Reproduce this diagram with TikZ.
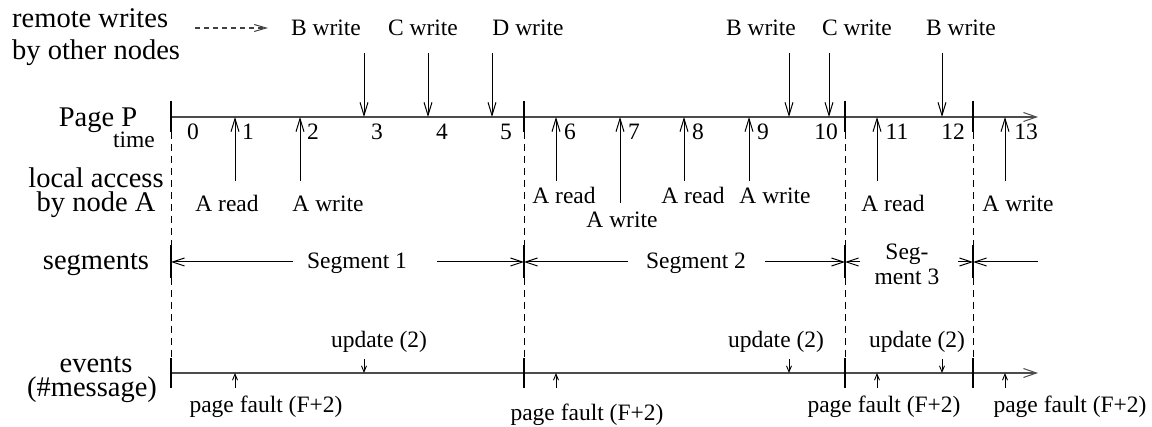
\documentclass[tikz,border=0pt]{standalone}
\usepackage{fontspec}
\setmainfont{Liberation Serif}
\usetikzlibrary{arrows.meta}
\begin{document}
\begin{tikzpicture}[x=1pt,y=-1pt,
  big/.style={font=\fontsize{28.5}{32}\selectfont,inner sep=0pt,anchor=base},
  lbl/.style={font=\fontsize{23.5}{26}\selectfont,inner sep=0pt,anchor=base},
  axis/.style={line width=1.4pt,draw=black!70,-{Straight Barb[length=13pt,width=9pt,line width=1pt]}},
  tick/.style={line width=1.3pt},
  bound/.style={line width=0.9pt,dash pattern=on 7pt off 5pt},
  rw/.style={line width=1pt,-{Straight Barb[length=13pt,width=8pt,line width=1pt]}},
  segarrow/.style={line width=1pt,-{Straight Barb[length=12pt,width=8pt,line width=1pt]}},
  ev/.style={line width=1pt,-{Straight Barb[length=6pt,width=5pt,line width=0.9pt]}}]
\useasboundingbox (0,0) rectangle (1152,427);

% row captions
\node[big,anchor=base west] (cap1) at (12,28) {remote writes};
\node[big,anchor=base west] (cap2) at (12,60) {by other nodes};
\node[big] (pagep) at (98,127) {Page P};
\node[lbl,anchor=base east] (time) at (155,148) {time};
\node[big] (loc1) at (96,188) {local access};
\node[big] (loc2) at (96,212) {by node A};
\node[big] (segs) at (96,270) {segments};
\node[big] (evts) at (96,373) {events};
\node[big] (msgs) at (92,397) {(\#message)};

% legend arrow for remote writes
\coordinate (lg1) at (195,28);
\coordinate (lg2) at (268,28);
\draw[line width=1.2pt,draw=black!75,dash pattern=on 5pt off 4pt,-{Straight Barb[length=12pt,width=7pt,line width=1pt]}] (lg1) -- (lg2);

% time axis and event axis
\coordinate (ax0) at (171,117);
\coordinate (ax1) at (1038,117);
\draw[axis] (ax0) -- (ax1);
\coordinate (ev0) at (171,373);
\coordinate (ev1) at (1038,373);
\draw[axis] (ev0) -- (ev1);

% segment boundaries
\foreach \x [count=\i] in {171,524,845,973}{
  \coordinate (ta\i) at (\x,101); \coordinate (tb\i) at (\x,132);
  \coordinate (sa\i) at (\x,245); \coordinate (sb\i) at (\x,278);
  \coordinate (ea\i) at (\x,358); \coordinate (eb\i) at (\x,388);
  \draw[tick] (ta\i) -- (tb\i);
  \draw[tick] (sa\i) -- (sb\i);
  \draw[tick] (ea\i) -- (eb\i);
  \draw[bound] (tb\i) -- (sa\i);
  \draw[bound] (sb\i) -- (ea\i);
}

% time numbers
\foreach \n/\x in {0/193,1/248,2/313,3/377,4/442,5/506,6/570,7/634,8/698,9/763,10/826,11/897,12/953,13/1026}
  \node[lbl] (t\n) at (\x,140) {\n};

% remote writes
\foreach \lab/\lx/\ax [count=\i] in {B/326/364,C/423/428,D/528/492,B/761/789,C/857/829,B/961/942}{
  \node[lbl] (rl\i) at (\lx,36) {\lab\ write};
  \coordinate (rs\i) at (\ax,53);
  \coordinate (re\i) at (\ax,117);
  \draw[rw] (rs\i) -- (re\i);
}

% local accesses by node A
\foreach \ax/\ay [count=\i] in {235/181,300/181,556/181,620/203,684/181,749/181,877/181,1005/181}{
  \coordinate (ls\i) at (\ax,\ay);
  \coordinate (le\i) at (\ax,117);
  \draw[rw] (ls\i) -- (le\i);
}
\node[lbl] (la1) at (227,212) {A read};
\node[lbl] (la2) at (328,212) {A write};
\node[lbl] (la3) at (564,204) {A read};
\node[lbl] (la4) at (622,228) {A write};
\node[lbl] (la5) at (693,204) {A read};
\node[lbl] (la6) at (775,204) {A write};
\node[lbl] (la7) at (893,212) {A read};
\node[lbl] (la8) at (1018,212) {A write};

% segments
\node[lbl] (sg1) at (357,269) {Segment 1};
\node[lbl] (sg2) at (696,269) {Segment 2};
\node[lbl] (sg3a) at (907,260) {Seg-};
\node[lbl] (sg3b) at (907,285) {ment 3};
\coordinate (s1l) at (293,262); \coordinate (s1r) at (437,262);
\coordinate (s2l) at (628,262); \coordinate (s2r) at (765,262);
\coordinate (s3l) at (860,262); \coordinate (s3r) at (958,262);
\coordinate (s4r) at (1038,262);
\coordinate (b1) at (171,262); \coordinate (b2) at (524,262);
\coordinate (b3) at (845,262); \coordinate (b4) at (973,262);
\draw[segarrow] (s1l) -- (b1);
\draw[segarrow] (s1r) -- (b2);
\draw[segarrow] (s2l) -- (b2);
\draw[segarrow] (s2r) -- (b3);
\draw[segarrow] (s3l) -- (b3);
\draw[segarrow] (s3r) -- (b4);
\draw[segarrow] (s4r) -- (b4);

% message events
\foreach \ax/\lx [count=\i] in {364/379,789/776,942/917}{
  \node[lbl] (ul\i) at (\lx,348) {update (2)};
  \coordinate (us\i) at (\ax,359);
  \coordinate (ue\i) at (\ax,373);
  \draw[ev] (us\i) -- (ue\i);
}
\foreach \ax/\lx/\ly [count=\i] in {235/266/413,556/587/421,877/884/413,1005/1070/413}{
  \node[lbl] (pf\i) at (\lx,\ly) {page fault (F+2)};
  \coordinate (ps\i) at (\ax,388);
  \coordinate (pe\i) at (\ax,373);
  \draw[ev] (ps\i) -- (pe\i);
}
\end{tikzpicture}
\end{document}
